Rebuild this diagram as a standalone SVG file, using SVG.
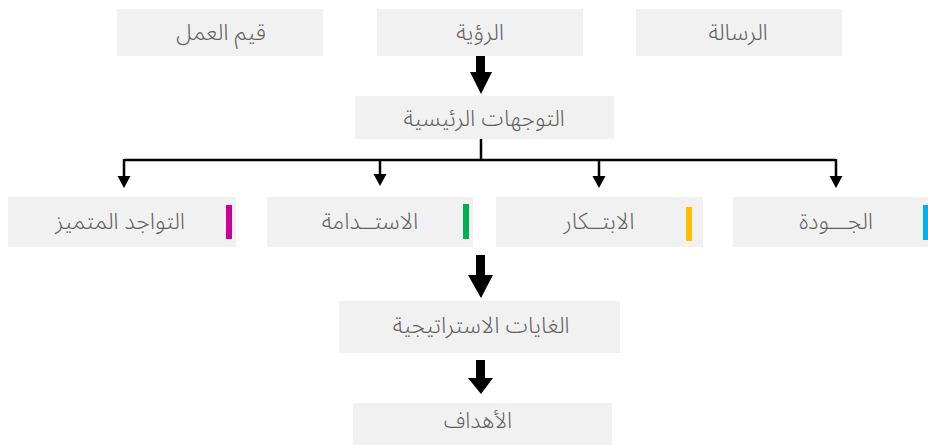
<svg xmlns="http://www.w3.org/2000/svg" width="928" height="445" viewBox="0 0 928 445">
<defs>
<style>
.box{fill:#f1f1f1}
.t{font-family:"Noto Sans Arabic","Noto Kufi Arabic","DejaVu Sans",sans-serif;font-weight:300;font-size:23px;fill:#606060;text-anchor:middle}
.ln{stroke:#000;stroke-width:2.5;fill:none}
.big{fill:#000}
</style>
</defs>
<rect width="928" height="445" fill="#fff"/>
<g id="connectors">
<path class="big" d="M476,52 H485 V72 H492 L481,94 L470,72 H476 Z"/>
<path class="big" d="M476,255 H485 V275 H493 L481,298 L468,275 H476 Z"/>
<path class="big" d="M476,360 H485 V378 H493 L481,394 L468,378 H476 Z"/>
<path class="ln" d="M481,139 V160"/>
<path class="ln" d="M124,160 H836"/>
<path class="ln" d="M124,159 V178"/><path class="big" d="M117.5,176 H130.5 L124,188 Z"/>
<path class="ln" d="M380,159 V175"/><path class="big" d="M373.5,174 H386.5 L380,186 Z"/>
<path class="ln" d="M599,159 V178"/><path class="big" d="M592.5,176 H605.5 L599,188 Z"/>
<path class="ln" d="M836,159 V178"/><path class="big" d="M829.5,176 H842.5 L836,188 Z"/>
</g>
<g id="values"><rect class="box" x="117" y="9" width="206" height="47"/><text class="t" x="221" y="40">قيم العمل</text></g>
<g id="vision"><rect class="box" x="377" y="9" width="206" height="47"/><text class="t" x="480" y="40">الرؤية</text></g>
<g id="mission"><rect class="box" x="636" y="9" width="206" height="47"/><text class="t" x="738" y="40">الرسالة</text></g>
<g id="directions"><rect class="box" x="355" y="96" width="259" height="43"/><text class="t" x="484" y="126">التوجهات الرئيسية</text></g>
<g id="excellence"><rect class="box" x="8" y="197" width="228" height="50"/><rect x="226" y="205" width="6" height="34" fill="#cc0099"/><text class="t" x="120" y="229">التواجد المتميز</text></g>
<g id="sustainability"><rect class="box" x="267" y="197" width="206" height="50"/><rect x="463" y="204" width="6" height="35" fill="#00b050"/><text class="t" x="370" y="229">الاستــدامة</text></g>
<g id="innovation"><rect class="box" x="496" y="197" width="207" height="50"/><rect x="686" y="207" width="6" height="34" fill="#ffc000"/><text class="t" x="599" y="229">الابتــكار</text></g>
<g id="quality"><rect class="box" x="733" y="197" width="195" height="50"/><rect x="923" y="205" width="5" height="35" fill="#00b0f0"/><text class="t" x="836" y="229">الجـــودة</text></g>
<g id="goals"><rect class="box" x="339" y="301" width="281" height="52"/><text class="t" x="481" y="333">الغايات الاستراتيجية</text></g>
<g id="objectives"><rect class="box" x="353" y="403" width="259" height="42"/><text class="t" x="478" y="428" style="font-size:22px">الأهداف</text></g>
</svg>
